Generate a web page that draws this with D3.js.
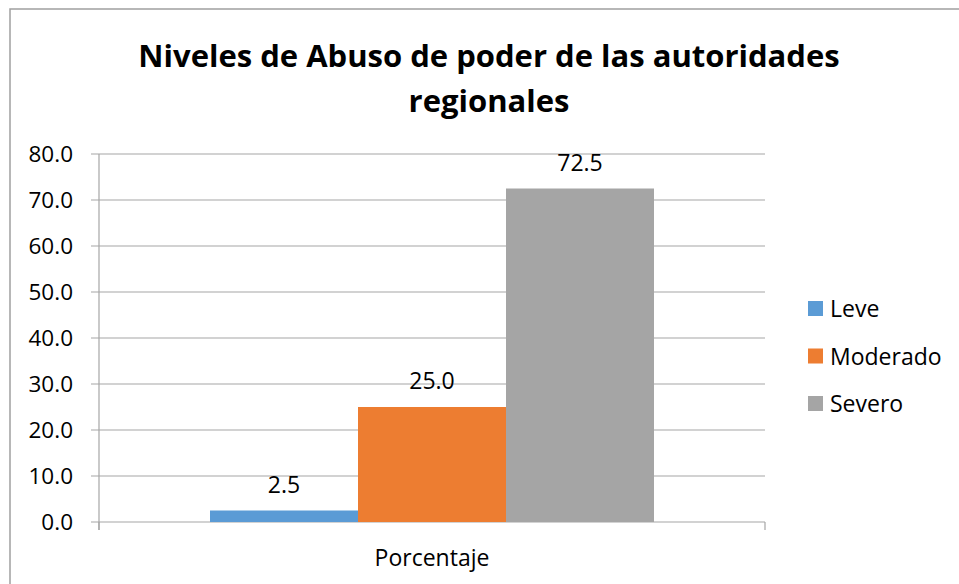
<!DOCTYPE html>
<html>
<head>
<meta charset="utf-8">
<script src="https://cdn.jsdelivr.net/npm/d3@7"></script>
<style>
  body { margin: 0; background: #fff; }
  text { font-family: "Open Sans", "Noto Sans", sans-serif; fill: #000; }
</style>
</head>
<body>
<svg width="959" height="584"></svg>
<script>
// data
var categories = ['Porcentaje'];
var seriesNames = ['Leve', 'Moderado', 'Severo'];
var seriesValues = [2.5, 25.0, 72.5];
var seriesColors = ['#5b9bd5', '#ed7d31', '#a5a5a5'];
var yTicks = [0, 10, 20, 30, 40, 50, 60, 70, 80];
var titleLines = ['Niveles de Abuso de poder de las autoridades', 'regionales'];

var svg = d3.select('svg');
var plot = {l: 99, r: 765, t: 154, b: 522};

// outer chart border (right and bottom fall outside the picture)
svg.append('rect')
    .attr('x', 10).attr('y', 9)
    .attr('width', 960).attr('height', 600)
    .attr('fill', 'none')
    .attr('stroke', '#a0a0a0')
    .attr('stroke-width', 1.5);

// title
svg.append('text')
    .attr('text-anchor', 'middle')
    .attr('font-size', 31)
    .attr('font-weight', 'bold')
    .selectAll('tspan')
    .data(titleLines)
    .enter().append('tspan')
    .attr('x', 489)
    .attr('y', function(d, i) { return 67 + i * 45; })
    .text(function(d) { return d; });

var yScale = d3.scaleLinear().domain([0, 80]).range([plot.b, plot.t]);
var x0 = d3.scaleBand().domain(categories).range([plot.l, plot.r]);
var x1 = d3.scaleBand().domain(seriesNames)
    .range([0, x0.bandwidth()])
    .paddingInner(0).paddingOuter(0.75);

// gridlines
svg.append('g')
    .selectAll('line')
    .data(yTicks)
    .enter().append('line')
    .attr('x1', plot.l - 8).attr('x2', plot.r)
    .attr('y1', function(d) { return yScale(d); })
    .attr('y2', function(d) { return yScale(d); })
    .attr('stroke', '#a6a6a6')
    .attr('stroke-width', 1.2);

// y axis
var yAxis = d3.axisLeft(yScale)
    .tickValues(yTicks)
    .tickFormat(d3.format('.1f'))
    .tickSize(8)
    .tickPadding(18);
var yG = svg.append('g')
    .attr('transform', 'translate(' + plot.l + ',0)')
    .call(yAxis);
yG.select('.domain').remove();
yG.selectAll('.tick line').remove();
yG.selectAll('.tick text')
    .attr('font-size', 22.5)
    .attr('font-family', '"Open Sans", sans-serif')
    .attr('fill', '#000');
yG.append('line')
    .attr('x1', 0).attr('x2', 0)
    .attr('y1', plot.t).attr('y2', plot.b + 8)
    .attr('stroke', '#a6a6a6').attr('stroke-width', 1.2);

// category axis ticks at band edges
svg.append('g')
    .selectAll('line')
    .data([plot.l, plot.r])
    .enter().append('line')
    .attr('x1', function(d) { return d; })
    .attr('x2', function(d) { return d; })
    .attr('y1', plot.b).attr('y2', plot.b + 8)
    .attr('stroke', '#a6a6a6').attr('stroke-width', 1.2);

// bars
var bars = svg.append('g')
    .attr('transform', 'translate(' + x0(categories[0]) + ',0)');
bars.selectAll('rect')
    .data(seriesValues)
    .enter().append('rect')
    .attr('x', function(d, i) { return x1(seriesNames[i]); })
    .attr('y', function(d) { return yScale(d); })
    .attr('width', x1.bandwidth())
    .attr('height', function(d) { return yScale(0) - yScale(d); })
    .attr('fill', function(d, i) { return seriesColors[i]; });

// value labels
bars.selectAll('text')
    .data(seriesValues)
    .enter().append('text')
    .attr('x', function(d, i) { return x1(seriesNames[i]) + x1.bandwidth() / 2; })
    .attr('y', function(d) { return yScale(d) - 18; })
    .attr('text-anchor', 'middle')
    .attr('font-size', 23)
    .text(function(d) { return d3.format('.1f')(d); });

// category label
svg.append('text')
    .attr('x', x0(categories[0]) + x0.bandwidth() / 2)
    .attr('y', 566)
    .attr('text-anchor', 'middle')
    .attr('font-size', 23)
    .text(categories[0]);

// legend
var legend = svg.append('g')
    .selectAll('g')
    .data(seriesNames)
    .enter().append('g')
    .attr('transform', function(d, i) { return 'translate(808,' + (301 + i * 47.5) + ')'; });
legend.append('rect')
    .attr('width', 15).attr('height', 15)
    .attr('fill', function(d, i) { return seriesColors[i]; });
legend.append('text')
    .attr('x', 22).attr('y', 16)
    .attr('font-size', 23)
    .text(function(d) { return d; });
</script>
</body>
</html>
